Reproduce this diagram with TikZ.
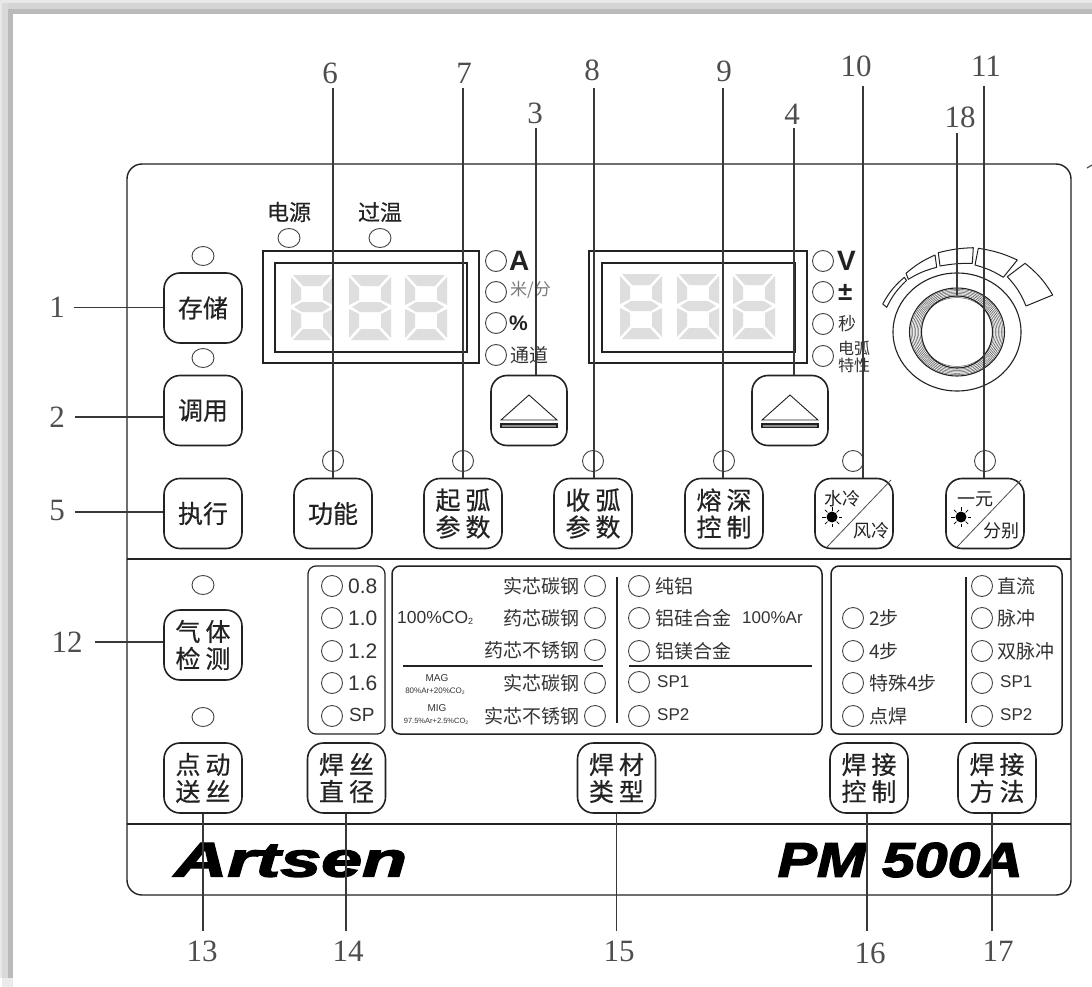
\documentclass[tikz,border=0pt]{standalone}
\usepackage{fontspec}
\setmainfont{Liberation Serif}
\newfontfamily\cjk{Noto Sans CJK SC}
\newfontfamily\cjkb[FakeBold=0.5]{Noto Sans CJK SC}
\newfontfamily\lat{Liberation Sans}
\newfontfamily\logofont[BoldItalicFeatures={FakeBold=2.5}]{Liberation Sans}
\usetikzlibrary{calc,shapes.geometric}
\definecolor{ink}{HTML}{222222}
\definecolor{txt}{HTML}{333333}
\definecolor{seg}{HTML}{DEDEDE}
\newcommand{\twoby}[4]{#1\kern5pt #2\\#3\kern5pt #4}
\tikzset{
  panel/.style={draw=ink,line width=1.4pt,rounded corners=15pt},
  btn/.style={draw=ink,line width=1.6pt,rounded corners=16pt,minimum width=78pt,minimum height=70pt,inner sep=0pt,align=center,fill=white,text=ink,font=\cjkb\fontsize{25}{27}\selectfont},
  led/.style={draw=ink!85,line width=0.9pt,circle,minimum size=21pt,inner sep=0pt},
  ledo/.style={draw=ink!85,line width=0.9pt,ellipse,minimum width=22pt,minimum height=19pt,inner sep=0pt},
  numlab/.style={font=\fontsize{31}{33}\selectfont,text=ink!80,inner sep=0pt},
  lead/.style={draw=ink!90,line width=1.1pt},
  tag/.style={font=\cjk\fontsize{19}{21}\selectfont,text=txt,inner sep=0pt,anchor=west},
  tagr/.style={font=\cjk\fontsize{19}{21}\selectfont,text=txt,inner sep=0pt,anchor=east},
  tage/.style={font=\lat\fontsize{17}{19}\selectfont,text=txt,inner sep=0pt,anchor=west},
  unitb/.style={font=\lat\bfseries\fontsize{28}{30}\selectfont,inner sep=0pt,anchor=west,text=ink},
  tiny/.style={font=\lat\fontsize{8}{9}\selectfont,text=txt,inner sep=0pt},
  swt/.style={font=\cjk\fontsize{18}{19}\selectfont,inner sep=0pt,text=ink},
  dispo/.style={draw=ink,line width=1.5pt},
  dispi/.style={draw=ink,line width=1.3pt},
  divider/.style={draw=ink,line width=1.5pt},
  groupbox/.style={draw=ink,line width=1.5pt,rounded corners=8pt},
  seglit/.style={draw=ink,line width=1pt,line join=round},
  logo/.style={font=\logofont\bfseries\itshape\fontsize{49}{50}\selectfont,text=black,inner sep=0pt}
}
\newcommand{\digit}[2]{%
\begin{scope}[shift={(#1,#2)}]
\fill[seg] (2,0)--(40,0)--(30,11)--(12,11)--cycle;
\fill[seg] (0,2)--(10,13)--(10,25)--(0,30)--cycle;
\fill[seg] (42,2)--(32,13)--(32,25)--(42,30)--cycle;
\fill[seg] (3,32)--(11,27)--(31,27)--(39,32)--(31,37)--(11,37)--cycle;
\fill[seg] (0,34)--(10,39)--(10,52)--(0,63)--cycle;
\fill[seg] (42,34)--(32,39)--(32,52)--(42,63)--cycle;
\fill[seg] (2,65)--(12,54)--(30,54)--(40,65)--cycle;
\end{scope}}
\begin{document}
\begin{tikzpicture}[x=1pt,y=-1pt]
\useasboundingbox (0,0) rectangle (1092,987);
% page band
\fill[white] (0,0) rectangle (1092,987);
\fill[black!9] (0,0) rectangle (1092,3);
\fill[black!17] (0,3) rectangle (1092,9);
\fill[black!27] (13,9) rectangle (1092,14.5);
\fill[black!9] (0,0) rectangle (2,978);
\fill[black!15] (2,3) rectangle (8,978);
\fill[black!27] (8,9) rectangle (13,978);
\fill[black!8] (2,978) rectangle (13,987);
% panel
\draw[panel] (127,164) rectangle (1071,895);
\draw[divider] (127,559) -- (1071,559);
\draw[divider] (127,824) -- (1071,824);
% displays
\draw[dispo] (263,251) rectangle (479,363);
\draw[dispi] (275,263) rectangle (467,352);
\digit{291}{275}\digit{349}{275}\digit{405}{275}
\draw[dispo] (589,251) rectangle (807,363);
\draw[dispi] (602,263) rectangle (795,352);
\digit{620}{274}\digit{677}{274}\digit{733}{274}
% unit leds left
\node[led] (la) at (496,261) {};
\node[led] (lb) at (496,292) {};
\node[led] (lc) at (496,323) {};
\node[led] (ld) at (496,355) {};
\node[unitb] (ta) at (509,261) {A};
\node[tag,font=\cjk\fontsize{17}{19}\selectfont,text=ink!60] (tb) at (510,290) {米/分};
\node[unitb,font=\lat\bfseries\fontsize{21}{22}\selectfont] (tc) at (509,323) {\%};
\node[tag] (td) at (510,355) {通道};
% unit leds right
\node[led] (ra) at (823,261) {};
\node[led] (rb) at (823,292) {};
\node[led] (rc) at (823,324) {};
\node[led] (rd) at (823,356) {};
\node[unitb] (tv) at (837,261) {V};
\node[unitb,font=\lat\bfseries\fontsize{26}{28}\selectfont] (tp) at (838,292) {±};
\node[tag,font=\cjk\fontsize{18}{20}\selectfont] (ts) at (838,324) {秒};
\node[tag,font=\cjk\fontsize{16}{17}\selectfont,align=center] (tx) at (838,357) {电弧\\特性};
% power, overheat
\node[font=\cjkb\fontsize{22}{24}\selectfont,text=ink,inner sep=0pt] (pw) at (289,212) {电源};
\node[font=\cjkb\fontsize{22}{24}\selectfont,text=ink,inner sep=0pt] (ot) at (380,212) {过温};
\node[ledo] (lpw) at (289,238) {};
\node[ledo] (lot) at (380,238) {};
% left column buttons
\node[ledo] (lst) at (203,256) {};
\node[ledo] (lcl) at (203,358) {};
\node[btn] (bst) at (203,308) {存储};
\node[btn] (bcl) at (203,410.5) {调用};
\node[btn] (bex) at (203,513.5) {执行};
% up buttons
\node[btn,minimum width=76pt] (up1) at (529,410.5) {};
\node[btn,minimum width=76pt] (up2) at (790,410.5) {};
\foreach \u in {up1,up2}{
  \draw[ink,line width=0.9pt] ($(\u)+(-28,9.5)$) -- ($(\u)+(0,-15.5)$) -- ($(\u)+(28,9.5)$) -- cycle;
  \draw[ink,line width=1.2pt,fill=black!45] ($(\u)+(-28,13.5)$) rectangle ($(\u)+(28,17)$);
}
% function row
\node[btn] (bfn) at (333,513.5) {功能};
\node[btn] (bqh) at (463,513.5) {\twoby{起}{弧}{参}{数}};
\node[btn] (bsh) at (593,513.5) {\twoby{收}{弧}{参}{数}};
\node[btn] (brs) at (724,513.5) {\twoby{熔}{深}{控}{制}};
\node[btn] (bwc) at (854,513.5) {};
\node[btn] (bys) at (985,513.5) {};
\draw[ink!80,line width=0.8pt] (891,480) -- (827,547);
\draw[ink!80,line width=0.8pt] (1021,480) -- (957,547);
\node[swt] (wa) at (842,499) {水冷};
\node[swt] (wb) at (871,531) {风冷};
\node[swt] (ya) at (975,499) {一元};
\node[swt] (yb) at (1001,531) {分别};
\foreach \s/\cx in {sunw/832,suny/961}{
  \coordinate (\s) at (\cx,517);
  \fill[black] (\s) circle (5.5pt);
  \foreach \a in {0,45,...,315}
    \draw[black,line width=0.7pt] ($(\s)+(\a:6.5)$) -- ($(\s)+(\a:10)$);
}
% row LEDs
\node[led] (lfn) at (333,461) {};
\node[led] (lqh) at (463,461) {};
\node[led] (lsh) at (593,461) {};
\node[led] (lrs) at (724,461) {};
\node[led] (lwc) at (853,461) {};
\node[led] (lys) at (985,461) {};
% knob
\coordinate (kn) at (957,332);
\draw[ink,line width=1.1pt] (kn) ellipse [x radius=64,y radius=59];
\foreach \r in {37,38.5,40,41.5,43,44.5,46}\draw[ink!75,line width=0.5pt] (kn) ellipse [x radius=\r,y radius=\r*0.93];
\draw[ink,line width=1.1pt] (kn) ellipse [x radius=47.5,y radius=44];
\draw[ink,line width=1.1pt] (kn) ellipse [x radius=35.5,y radius=36];
\draw[seglit] (882.7,304) to[bend left=10] (904.3,277.3) -- (906.5,280.5) to[bend right=10] (886.7,307.3) -- cycle;
\draw[seglit] (906,273.3) to[bend left=8] (935,255) -- (936.7,267.3) to[bend right=8] (908.3,279.3) -- cycle;
\draw[seglit] (938.3,252.7) to[bend left=6] (973.3,247.7) -- (972.3,263.3) to[bend right=5] (940,266) -- cycle;
\draw[seglit] (978.3,248.3) to[bend left=8] (1017.3,260) -- (1003.3,277.3) to[bend right=8] (975,265) -- cycle;
\draw[seglit] (1025,263.3) to[bend left=10] (1052.7,295) -- (1026,306) to[bend right=10] (1007.3,276.7) -- cycle;
% lower-left
\node[ledo] (lgs) at (203,585) {};
\node[ledo] (ljg) at (203,717) {};
\node[btn] (bgs) at (203,645) {\twoby{气}{体}{检}{测}};
% group boxes
\draw[groupbox,line width=1.2pt] (308,566) rectangle (385,734);
\draw[groupbox] (392,566) rectangle (822,734);
\draw[groupbox] (831,566) rectangle (1062,734);
% wire diameter
\foreach \n/\y/\t in {a/586/0.8,b/618/1.0,c/651/1.2,d/683/1.6}{
  \node[led] (d\n) at (332,\y) {};
  \node[tage,font=\lat\fontsize{21}{22}\selectfont] (dt\n) at (348,\y) {\t};
}
\node[led] (de) at (332,716) {};
\node[tage,font=\lat\fontsize{19}{21}\selectfont] (dte) at (349,715) {SP};
% material, left part
\foreach \n/\y/\t in {a/586/实芯碳钢,b/618/药芯碳钢,c/650/药芯不锈钢,d/683/实芯碳钢,e/716/实芯不锈钢}{
  \node[led] (m\n) at (595,\y) {};
  \node[tagr] (mt\n) at (580,\y) {\t};
}
\node[tage,font=\lat\fontsize{17.5}{19}\selectfont] (co) at (397,618) {100\%CO{\fontsize{9}{9}\selectfont\raisebox{-1pt}{2}}};
\node[tiny,font=\lat\fontsize{10}{11}\selectfont] (mag) at (437,678) {MAG};
\node[tiny] (maga) at (435,691) {80\%Ar+20\%CO{\fontsize{5}{5}\selectfont\raisebox{-1pt}{2}}};
\node[tiny,font=\lat\fontsize{10}{11}\selectfont] (mig) at (437,708) {MIG};
\node[tiny,font=\lat\fontsize{7.5}{9}\selectfont] (miga) at (436,721) {97.5\%Ar+2.5\%CO{\fontsize{5}{5}\selectfont\raisebox{-1pt}{2}}};
\draw[divider] (403,666) -- (603,666);
\draw[divider] (629,666) -- (812,666);
\draw[divider] (617,577) -- (617,723);
% material, right part
\foreach \n/\y/\t in {a/586/纯铝,b/618/铝硅合金,c/651/铝镁合金}{
  \node[led] (q\n) at (639,\y) {};
  \node[tag] (qt\n) at (655,\y) {\t};
}
\node[led] (qd) at (639,682) {};
\node[led] (qe) at (639,716) {};
\node[tage] (qtd) at (657,682) {SP1};
\node[tage] (qte) at (657,715) {SP2};
\node[tage] (arr) at (742,618) {100\%Ar};
% control
\foreach \n/\y/\t in {a/618/2步,b/651/4步,c/683/特殊4步,d/716/点焊}{
  \node[led] (w\n) at (853,\y) {};
  \node[tag] (wt\n) at (869,\y) {\t};
}
\draw[divider] (966,577) -- (966,723);
\foreach \n/\y/\t in {a/586/直流,b/618/脉冲,c/651/双脉冲}{
  \node[led] (x\n) at (982,\y) {};
  \node[tag] (xt\n) at (997,\y) {\t};
}
\node[led] (xd) at (982,683) {};
\node[led] (xe) at (982,716) {};
\node[tage] (xtd) at (1000,682) {SP1};
\node[tage] (xte) at (1000,715) {SP2};
% lower buttons
\node[btn] (bjg) at (203,778) {\twoby{点}{动}{送}{丝}};
\node[btn] (bwd) at (346.5,778) {\twoby{焊}{丝}{直}{径}};
\node[btn] (bmt) at (616.5,778) {\twoby{焊}{材}{类}{型}};
\node[btn] (bct) at (869,778) {\twoby{焊}{接}{控}{制}};
\node[btn] (bmd) at (997,778) {\twoby{焊}{接}{方}{法}};
% logos
\node[logo,anchor=west] (art) at (174,860) {\scalebox{1.5}[1]{Artsen}};
\node[logo,anchor=east] (pm) at (1023,860) {\scalebox{1.2}[1]{PM 500A}};
% number labels
\node[numlab] (n1) at (57,307) {1};
\node[numlab] (n2) at (57,417) {2};
\node[numlab] (n5) at (57,510) {5};
\node[numlab] (n12) at (67,642) {12};
\node[numlab] (n6) at (330,73) {6};
\node[numlab] (n7) at (464,73) {7};
\node[numlab] (n3) at (535,113) {3};
\node[numlab] (n8) at (592,70) {8};
\node[numlab] (n9) at (724,71) {9};
\node[numlab] (n4) at (792,114) {4};
\node[numlab] (n10) at (856,66) {10};
\node[numlab] (n11) at (986,66) {11};
\node[numlab] (n18) at (960,117) {18};
\node[numlab] (n13) at (202,951) {13};
\node[numlab] (n14) at (348,951) {14};
\node[numlab] (n15) at (619,951) {15};
\node[numlab] (n16) at (870,953) {16};
\node[numlab] (n17) at (998,951) {17};
% leaders
\coordinate (c1) at (74,307.5);
\coordinate (c2) at (75,417);
\coordinate (c5) at (75,512);
\coordinate (c12) at (95,642);
\draw[lead] (c1) -- (c1 -| bst.west);
\draw[lead] (c2) -- (c2 -| bcl.west);
\draw[lead] (c5) -- (c5 -| bex.west);
\draw[lead] (c12) -- (c12 -| bgs.west);
\coordinate (c6) at (333,88);
\coordinate (c7) at (463,88);
\coordinate (c3) at (536,128);
\coordinate (c8) at (594,88);
\coordinate (c9) at (723,88);
\coordinate (c4) at (794,128);
\coordinate (c10) at (863,86);
\coordinate (c11) at (984,86);
\coordinate (c18) at (957,133);
\draw[lead] (c6) -- (c6 |- bfn.north);
\draw[lead] (c7) -- (c7 |- bqh.north);
\draw[lead] (c3) -- (c3 |- up1.north);
\draw[lead] (c8) -- (c8 |- bsh.north);
\draw[lead] (c9) -- (c9 |- brs.north);
\draw[lead] (c4) -- (c4 |- up2.north);
\draw[lead] (c10) -- (c10 |- bwc.north);
\draw[lead] (c11) -- (c11 |- bys.north);
\coordinate (k18) at (957,295);
\draw[lead] (c18) -- (k18);
\coordinate (c13) at (203,931);
\coordinate (c14) at (346,931);
\coordinate (c15) at (616.5,931);
\coordinate (c16) at (867,931);
\coordinate (c17) at (992,931);
\draw[lead] (c13) -- (c13 |- bjg.south);
\draw[lead] (c14) -- (c14 |- bwd.south);
\draw[lead] (c15) -- (c15 |- bmt.south);
\draw[lead] (c16) -- (c16 |- bct.south);
\draw[lead] (c17) -- (c17 |- bmd.south);
% clipped mark at the right edge
\draw[ink!80,line width=1.2pt] (1087,168) -- (1092,165);
\end{tikzpicture}
\end{document}
